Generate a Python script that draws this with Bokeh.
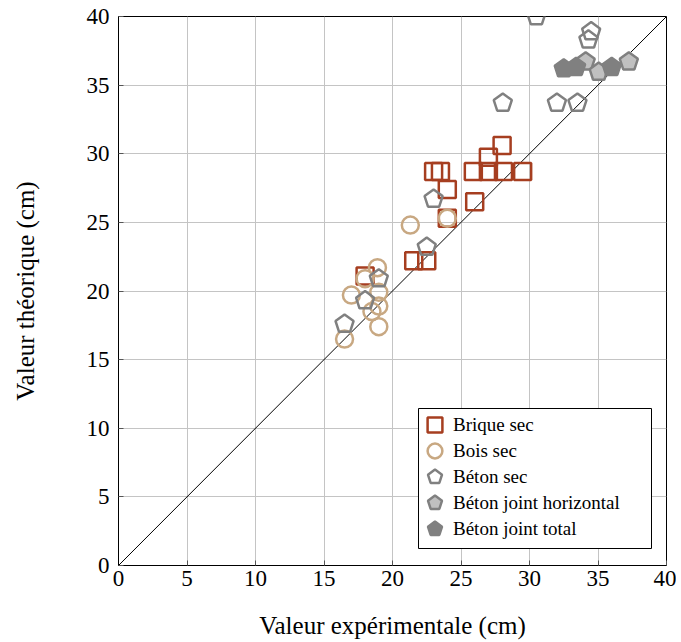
from bokeh.plotting import figure
from bokeh.models import Range1d, Legend, LegendItem, FixedTicker, BoxAnnotation
from bokeh.embed import file_html
from bokeh.resources import INLINE

# Data
brique_x = [23.0, 23.5, 24.0, 26.0, 24.0, 25.9, 27.0, 28.1, 29.5, 27.0, 28.0, 21.55, 22.5, 18.0]
brique_y = [28.7, 28.7, 27.4, 26.5, 25.3, 28.7, 28.7, 28.7, 28.7, 29.75, 30.6, 22.2, 22.2, 21.1]

bois_x = [21.3, 24.0, 18.9, 18.0, 17.0, 19.0, 19.0, 18.5, 19.0, 16.5]
bois_y = [24.8, 25.3, 21.7, 20.9, 19.7, 19.9, 18.9, 18.5, 17.4, 16.5]

beton_x = [30.5, 34.5, 34.3, 28.05, 32.0, 33.5, 23.0, 22.5, 19.0, 18.0, 16.5]
beton_y = [40.0, 38.9, 38.3, 33.7, 33.7, 33.7, 26.7, 23.2, 20.9, 19.3, 17.6]

joint_h_x = [34.1, 35.05, 37.25]
joint_h_y = [36.7, 35.95, 36.7]

joint_t_x = [32.5, 33.4, 36.0]
joint_t_y = [36.2, 36.3, 36.3]

labels = ["Brique sec", "Bois sec", "Béton sec", "Béton joint horizontal", "Béton joint total"]

diag = [0, 40]
ticks = [0, 5, 10, 15, 20, 25, 30, 35, 40]

FONT = "Liberation Serif"
RUST = "#a63e20"
TAN = "#c8a882"
GRAY = "#808080"
LIGHT = "#c0c0c0"

p = figure(frame_width=548, frame_height=549, output_backend="svg", toolbar_location=None,
           x_range=Range1d(0, 40), y_range=Range1d(0, 40),
           min_border_left=118, min_border_top=16, min_border_right=10, min_border_bottom=10,
           x_axis_label="Valeur expérimentale (cm)", y_axis_label="Valeur théorique (cm)")

p.outline_line_color = "black"
p.outline_line_width = 1
p.outline_line_alpha = 1

for ax in [p.xaxis[0], p.yaxis[0]]:
    ax.ticker = FixedTicker(ticks=ticks)
    ax.minor_tick_line_color = None
    ax.major_tick_in = 5
    ax.major_tick_out = 0
    ax.major_tick_line_color = "#555555"
    ax.axis_line_color = "black"
    ax.major_label_text_font = FONT
    ax.major_label_text_font_size = "23px"
    ax.major_label_text_color = "black"
    ax.axis_label_text_font = FONT
    ax.axis_label_text_font_size = "25px"
    ax.axis_label_text_font_style = "normal"
    ax.axis_label_text_color = "black"

p.xaxis.major_label_standoff = 5
p.yaxis.major_label_standoff = 9
p.xaxis.axis_label_standoff = 23
p.yaxis.axis_label_standoff = 45

for g in [p.xgrid[0], p.ygrid[0]]:
    g.ticker = FixedTicker(ticks=ticks)
    g.grid_line_color = "#c4c4c4"
    g.grid_line_width = 1

p.line(diag, diag, line_color="black", line_width=1)

r1 = p.scatter(brique_x, brique_y, marker="square", size=17, fill_color=None,
               line_color=RUST, line_width=2.5)
r2 = p.scatter(bois_x, bois_y, marker="circle", size=17, fill_color=None,
               line_color=TAN, line_width=2.5)
r3 = p.ngon(x=beton_x, y=beton_y, radius=9.5, radius_units="screen", n=5,
            fill_color=None, line_color=GRAY, line_width=2.5)
r4 = p.ngon(x=joint_h_x, y=joint_h_y, radius=9.5, radius_units="screen", n=5,
            fill_color=LIGHT, line_color=GRAY, line_width=2.5)
r5 = p.ngon(x=joint_t_x, y=joint_t_y, radius=9.5, radius_units="screen", n=5,
            fill_color=GRAY, line_color=GRAY, line_width=2.5)

# Legend: framed box plus one single-entry legend per series (screen units, frame-relative)
box = BoxAnnotation(left=300, right=533, bottom=17, top=157,
                    left_units="screen", right_units="screen",
                    bottom_units="screen", top_units="screen",
                    fill_color="white", fill_alpha=1, line_color="black", line_width=1, line_alpha=1)
p.add_layout(box)

G = 37
rows = [140, 114, 88, 62, 36]
for r, lab, cy in zip([r1, r2, r3, r4, r5], labels, rows):
    lg = Legend(items=[LegendItem(label=lab, renderers=[r])], location=(298, cy - G // 2))
    lg.glyph_width = G
    lg.glyph_height = G
    lg.padding = 0
    lg.margin = 0
    lg.spacing = 0
    lg.label_standoff = 0
    lg.label_text_font = FONT
    lg.label_text_font_size = "19px"
    lg.label_text_color = "black"
    lg.label_height = G
    lg.border_line_color = None
    lg.background_fill_alpha = 0
    p.add_layout(lg)

open("out.html", "w").write(file_html(p, INLINE))
